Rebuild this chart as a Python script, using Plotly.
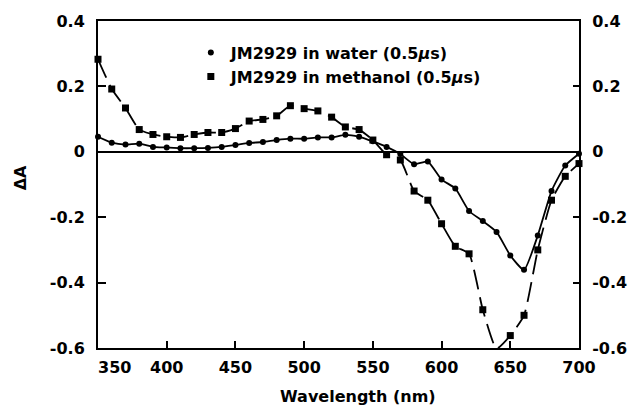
import plotly.graph_objects as go

wavelength = [350, 360, 370, 380, 390, 400, 410, 420, 430, 440, 450, 460,
              470, 480, 490, 500, 510, 520, 530, 540, 550, 560, 570, 580,
              590, 600, 610, 620, 630, 640, 650, 660, 670, 680, 690, 700]

water = [0.046, 0.028, 0.022, 0.025, 0.015, 0.013, 0.011, 0.011, 0.012, 0.015,
         0.021, 0.027, 0.030, 0.036, 0.040, 0.040, 0.044, 0.044, 0.052, 0.046,
         0.032, 0.015, -0.007, -0.038, -0.030, -0.085, -0.112, -0.181, -0.212,
         -0.245, -0.317, -0.361, -0.256, -0.120, -0.042, -0.006]

methanol = [0.283, 0.192, 0.134, 0.068, 0.053, 0.046, 0.044, 0.053, 0.059, 0.059,
            0.071, 0.094, 0.099, 0.110, 0.141, 0.132, 0.125, 0.106, 0.076, 0.068,
            0.036, -0.009, -0.025, -0.120, -0.148, -0.220, -0.289, -0.312, -0.483,
            -0.602, -0.562, -0.500, -0.300, -0.148, -0.075, -0.036]

x_ticks = [350, 400, 450, 500, 550, 600, 650, 700]
x_ticktext = ["\u00a0\u00a0\u00a0\u00a0\u00a0\u00a0350", "400", "450", "500", "550", "600", "650", "700"]
y_ticks = [-0.6, -0.4, -0.2, 0, 0.2, 0.4]
y_ticktext = ["-0.6", "-0.4", "-0.2", "0", "0.2", "0.4"]

legend_water = "JM2929 in water (0.5<i>\u03bc</i>s)"
legend_methanol = "JM2929 in methanol (0.5<i>\u03bc</i>s)"
x_title = "Wavelength (nm)"
y_title = "\u0394A"

FONT = "DejaVu Sans"

fig = go.Figure()

fig.add_trace(go.Scatter(
    x=wavelength, y=water, mode="lines+markers",
    line=dict(color="black", width=1.8, shape="spline", smoothing=0.5),
    marker=dict(symbol="circle", size=6, color="black"),
    cliponaxis=False, showlegend=False))

fig.add_trace(go.Scatter(
    x=wavelength, y=methanol, mode="lines+markers",
    line=dict(color="black", width=1.8, dash="20px,8px", shape="spline", smoothing=0.5),
    marker=dict(symbol="square", size=7, color="black"),
    cliponaxis=False, showlegend=False))

# legend-only entries (markers only, as in the reference)
fig.add_trace(go.Scatter(x=[None], y=[None], mode="markers", name=legend_water,
                         marker=dict(symbol="circle", size=6, color="black"), yaxis="y2"))
fig.add_trace(go.Scatter(x=[None], y=[None], mode="markers", name=legend_methanol,
                         marker=dict(symbol="square", size=7, color="black"), yaxis="y2"))

axis_font = dict(family=FONT, size=16, color="black", weight="bold")

fig.update_layout(
    width=631, height=408,
    margin=dict(l=98, r=52, t=21, b=60),
    paper_bgcolor="white", plot_bgcolor="white",
    font=dict(family=FONT, color="black"),
    showlegend=True,
    legend=dict(x=0.193, y=0.955, xanchor="left", yanchor="top",
                bgcolor="rgba(0,0,0,0)",
                font=dict(family=FONT, size=16, color="black", weight="bold"),
                itemwidth=30),
    xaxis=dict(range=[350, 700], tickvals=x_ticks, ticktext=x_ticktext,
               ticks="inside", ticklen=7, tickwidth=1.5, tickcolor="black",
               showline=True, linecolor="black", linewidth=2, mirror=True,
               showgrid=False, zeroline=False, tickfont=axis_font,
               ticklabelstandoff=4, automargin=False),
    yaxis=dict(range=[-0.6, 0.4], tickvals=y_ticks, ticktext=y_ticktext,
               ticks="inside", ticklen=8, tickwidth=1.5, tickcolor="black",
               showline=True, linecolor="black", linewidth=2, mirror=False,
               showgrid=False, zeroline=True, zerolinecolor="black", zerolinewidth=1.5,
               tickfont=axis_font, ticklabelstandoff=8, automargin=False),
    yaxis2=dict(range=[-0.6, 0.4], tickvals=y_ticks, ticktext=y_ticktext,
                overlaying="y", side="right",
                ticks="inside", ticklen=6, tickwidth=1.5, tickcolor="black",
                showline=True, linecolor="black", linewidth=2,
                showgrid=False, zeroline=False, tickfont=axis_font,
                ticklabelstandoff=8, automargin=False),
    annotations=[
        dict(text=x_title, xref="paper", yref="paper", x=0.54, y=-0.183,
             xanchor="center", yanchor="bottom", showarrow=False,
             font=dict(family=FONT, size=16, color="black", weight="bold")),
        dict(text=y_title, xref="paper", yref="paper", x=-0.162, y=0.519,
             xanchor="center", yanchor="middle", showarrow=False, textangle=-90,
             font=dict(family=FONT, size=16, color="black", weight="bold")),
    ],
)

fig.write_html("out.html")
